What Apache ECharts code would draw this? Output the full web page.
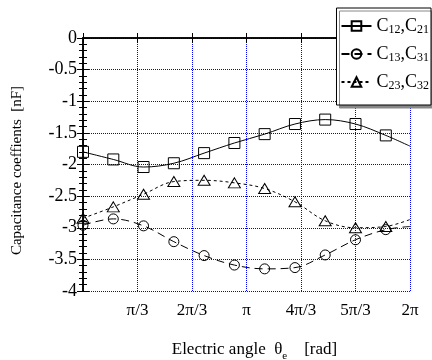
<!DOCTYPE html>
<html>
<head>
<meta charset="utf-8">
<script src="https://cdn.jsdelivr.net/npm/echarts@6/dist/echarts.min.js"></script>
<style>
  html, body { margin: 0; padding: 0; background: #fff; }
  #chart { width: 432px; height: 360px; }
</style>
</head>
<body>
<div id="chart"></div>
<script>
// electric angle, in units of pi/3 (last point = 2pi, line only, no marker)
const angleX = [0, 0.556, 1.111, 1.667, 2.222, 2.778, 3.333, 3.889, 4.444, 5.0, 5.556, 6];
const c12 = [-1.80, -1.92, -2.04, -1.98, -1.82, -1.66, -1.52, -1.36, -1.29, -1.36, -1.54, -1.71];
const c13 = [-2.96, -2.86, -2.97, -3.22, -3.44, -3.59, -3.65, -3.63, -3.43, -3.19, -3.03, -2.98];
const c23 = [-2.85, -2.67, -2.47, -2.27, -2.25, -2.29, -2.38, -2.59, -2.89, -3.00, -2.98, -2.87];
const xTickLabels = ['', 'π/3', '2π/3', 'π', '4π/3', '5π/3', '2π'];
const seriesNames = ['C12,C21', 'C13,C31', 'C23,C32'];

const FONT = '"Liberation Serif", "DejaVu Serif", serif';

function toData(values) {
  return values.map((v, i) => {
    if (i === values.length - 1) {
      return { value: [angleX[i], v], symbol: 'none' };
    }
    return [angleX[i], v];
  });
}

function makeSeries(name, values, symbol, dash) {
  return {
    name: name,
    type: 'line',
    smooth: 0.35,
    symbol: symbol,
    symbolSize: symbol === 'triangle' ? [12, 10] : (symbol === 'circle' ? 10 : 11),
    showAllSymbol: true,
    itemStyle: {
      color: 'rgba(0,0,0,0)',
      borderColor: '#000',
      borderWidth: 1,
    },
    lineStyle: {
      color: '#000',
      width: 1,
      type: dash,
    },
    emphasis: { disabled: true },
    data: toData(values),
  };
}

const frameLine = {
  axisLine: { show: true, lineStyle: { color: '#000', width: 1.5 } },
};

const chart = echarts.init(document.getElementById('chart'));
chart.setOption({
  animation: false,
  backgroundColor: '#fff',
  textStyle: { fontFamily: FONT, color: '#000' },
  grid: {
    left: 83,
    right: 22,
    top: 38,
    bottom: 69,
    containLabel: false,
    outerBoundsMode: 'none',
  },
  legend: {
    orient: 'vertical',
    right: 1,
    top: 8,
    itemWidth: 30,
    itemHeight: 12,
    itemGap: 9,
    padding: [9, 2, 13, 4],
    backgroundColor: '#fff',
    borderColor: '#000',
    borderWidth: 1,
    shadowColor: '#888',
    shadowBlur: 0,
    shadowOffsetX: 3,
    shadowOffsetY: 3,
    data: seriesNames,
    formatter: (name) => {
      const parts = name.split(',');
      return `{a|C}{s|${parts[0].slice(1)}}{a|,C}{s|${parts[1].slice(1)}}`;
    },
    textStyle: {
      fontFamily: FONT,
      color: '#000',
      rich: {
        a: { fontFamily: FONT, fontSize: 18, color: '#000' },
        s: { fontFamily: FONT, fontSize: 12, color: '#000', padding: [8, 0, 0, 0] },
      },
    },
  },
  xAxis: [
    {
      type: 'value',
      min: 0,
      max: 6,
      interval: 1,
      position: 'bottom',
      ...frameLine,
      axisTick: { show: true, inside: true, length: 5, lineStyle: { color: '#000' } },
      axisLabel: {
        fontFamily: FONT,
        fontSize: 17,
        color: '#000',
        margin: 11,
        formatter: (v) => xTickLabels[Math.round(v)] || '',
      },
      splitLine: { show: true, lineStyle: { color: '#0000ff', type: 'dotted', width: 1 } },
      name: '{a|Electric angle  θ}{s|e}{a|    [rad]}',
      nameLocation: 'middle',
      nameGap: 46,
      nameMoveOverlap: false,
      nameTextStyle: {
        padding: [0, 0, 0, 16],
        rich: {
          a: { fontFamily: FONT, fontSize: 17, color: '#000' },
          s: { fontFamily: FONT, fontSize: 11, color: '#000', padding: [14, 0, 0, 0] },
        },
      },
    },
    {
      type: 'value',
      min: 0,
      max: 6,
      interval: 1,
      position: 'top',
      ...frameLine,
      axisTick: { show: true, inside: true, length: 5, lineStyle: { color: '#000' } },
      axisLabel: { show: false },
      splitLine: { show: false },
    },
  ],
  yAxis: [
    {
      type: 'value',
      min: -4,
      max: 0,
      interval: 0.5,
      position: 'left',
      ...frameLine,
      axisTick: { show: true, inside: true, length: 6, lineStyle: { color: '#000' } },
      minorTick: { show: true, splitNumber: 5, length: 4, lineStyle: { color: '#000' } },
      axisLabel: { fontFamily: FONT, fontSize: 18, color: '#000', margin: 6 },
      splitLine: { show: true, lineStyle: { color: '#0000ff', type: 'dotted', width: 1 } },
      name: 'Capacitance coeffients  [nF]',
      nameLocation: 'middle',
      nameGap: 58,
      nameMoveOverlap: false,
      nameTextStyle: { fontFamily: FONT, fontSize: 15, color: '#000', padding: [0, 12, 0, 0] },
    },
    {
      type: 'value',
      min: -4,
      max: 0,
      interval: 0.5,
      position: 'right',
      ...frameLine,
      axisTick: { show: true, inside: true, length: 6, lineStyle: { color: '#000' } },
      minorTick: { show: true, splitNumber: 5, length: 4, lineStyle: { color: '#000' } },
      axisLabel: { show: false },
      splitLine: { show: false },
    },
  ],
  series: [
    makeSeries(seriesNames[0], c12, 'rect', 'solid'),
    makeSeries(seriesNames[1], c13, 'circle', [8, 5]),
    makeSeries(seriesNames[2], c23, 'triangle', [3, 3]),
  ],
});
</script>
</body>
</html>
